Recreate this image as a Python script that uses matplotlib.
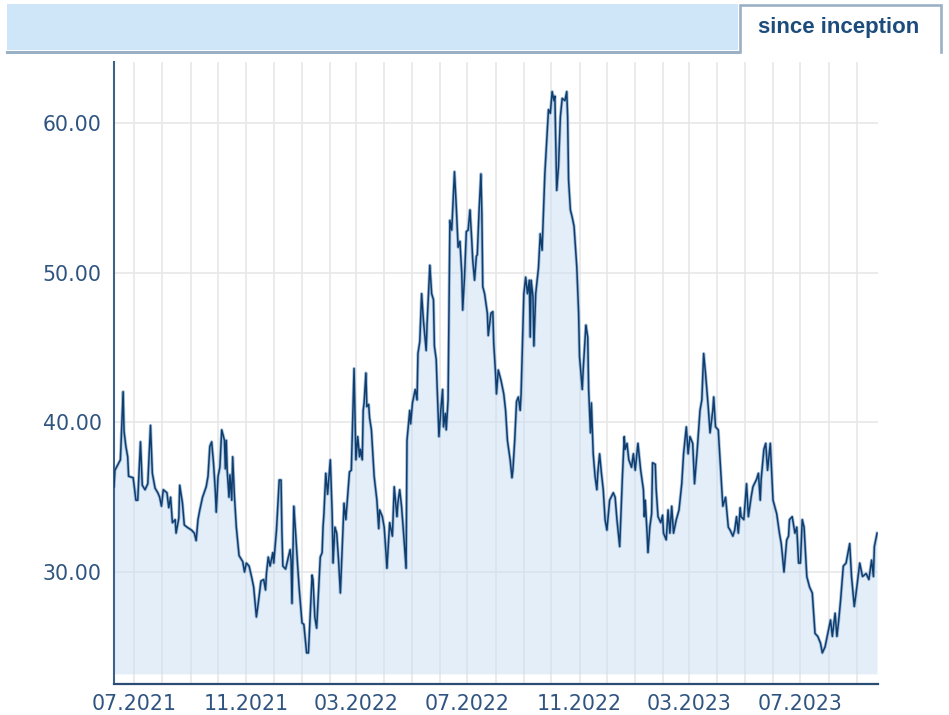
import matplotlib
matplotlib.use('Agg')
import matplotlib.pyplot as plt
import matplotlib.dates as mdates
from matplotlib.patches import Rectangle
from matplotlib.lines import Line2D
import pandas as pd

# ---------------- data ----------------
dates = [
    "2021-06-09", "2021-06-10", "2021-06-16", "2021-06-19", "2021-06-20", "2021-06-22", "2021-06-24", "2021-06-25",
    "2021-06-30", "2021-07-03", "2021-07-05", "2021-07-08", "2021-07-10", "2021-07-13", "2021-07-16", "2021-07-19",
    "2021-07-21", "2021-07-24", "2021-07-27", "2021-07-29", "2021-07-31", "2021-08-02", "2021-08-06", "2021-08-08",
    "2021-08-10", "2021-08-12", "2021-08-15", "2021-08-16", "2021-08-19", "2021-08-20", "2021-08-23", "2021-08-25",
    "2021-08-28", "2021-09-02", "2021-09-05", "2021-09-07", "2021-09-09", "2021-09-11", "2021-09-14", "2021-09-18",
    "2021-09-20", "2021-09-22", "2021-09-24", "2021-09-26", "2021-09-28", "2021-09-29", "2021-10-01", "2021-10-03",
    "2021-10-05", "2021-10-08", "2021-10-09", "2021-10-10", "2021-10-11", "2021-10-13", "2021-10-14", "2021-10-16",
    "2021-10-17", "2021-10-19", "2021-10-21", "2021-10-24", "2021-10-28", "2021-10-30", "2021-11-01", "2021-11-04",
    "2021-11-07", "2021-11-09", "2021-11-12", "2021-11-14", "2021-11-17", "2021-11-20", "2021-11-22", "2021-11-23",
    "2021-11-25", "2021-11-27", "2021-11-30", "2021-12-01", "2021-12-04", "2021-12-07", "2021-12-09", "2021-12-10",
    "2021-12-11", "2021-12-14", "2021-12-17", "2021-12-19", "2021-12-20", "2021-12-21", "2021-12-23", "2021-12-25",
    "2021-12-27", "2021-12-29", "2022-01-01", "2022-01-03", "2022-01-06", "2022-01-08", "2022-01-10", "2022-01-12",
    "2022-01-13", "2022-01-15", "2022-01-17", "2022-01-19", "2022-01-21", "2022-01-23", "2022-01-24", "2022-01-25",
    "2022-01-27", "2022-01-29", "2022-02-01", "2022-02-03", "2022-02-04", "2022-02-06", "2022-02-08", "2022-02-10",
    "2022-02-12", "2022-02-16", "2022-02-18", "2022-02-22", "2022-02-24", "2022-02-27", "2022-03-01", "2022-03-03",
    "2022-03-05", "2022-03-06", "2022-03-08", "2022-03-09", "2022-03-10", "2022-03-12", "2022-03-13", "2022-03-15",
    "2022-03-16", "2022-03-18", "2022-03-21", "2022-03-24", "2022-03-26", "2022-03-27", "2022-03-30", "2022-04-01",
    "2022-04-03", "2022-04-04", "2022-04-05", "2022-04-07", "2022-04-10", "2022-04-12", "2022-04-15", "2022-04-16",
    "2022-04-18", "2022-04-20", "2022-04-22", "2022-04-25", "2022-04-26", "2022-04-29", "2022-04-30", "2022-05-02",
    "2022-05-05", "2022-05-07", "2022-05-08", "2022-05-10", "2022-05-12", "2022-05-14", "2022-05-17", "2022-05-18",
    "2022-05-21", "2022-05-23", "2022-05-25", "2022-05-26", "2022-05-28", "2022-05-29", "2022-05-31", "2022-06-02",
    "2022-06-04", "2022-06-05", "2022-06-07", "2022-06-08", "2022-06-10", "2022-06-12", "2022-06-14", "2022-06-17",
    "2022-06-19", "2022-06-21", "2022-06-23", "2022-06-25", "2022-06-26", "2022-06-28", "2022-06-30", "2022-07-02",
    "2022-07-04", "2022-07-06", "2022-07-07", "2022-07-09", "2022-07-11", "2022-07-12", "2022-07-14", "2022-07-16",
    "2022-07-17", "2022-07-18", "2022-07-20", "2022-07-23", "2022-07-24", "2022-07-27", "2022-07-29", "2022-07-30",
    "2022-08-01", "2022-08-02", "2022-08-04", "2022-08-07", "2022-08-10", "2022-08-12", "2022-08-14", "2022-08-17",
    "2022-08-19", "2022-08-20", "2022-08-22", "2022-08-24", "2022-08-26", "2022-08-28", "2022-08-29", "2022-08-31",
    "2022-09-01", "2022-09-03", "2022-09-05", "2022-09-07", "2022-09-08", "2022-09-09", "2022-09-11", "2022-09-12",
    "2022-09-14", "2022-09-17", "2022-09-19", "2022-09-21", "2022-09-24", "2022-09-28", "2022-09-30", "2022-10-02",
    "2022-10-04", "2022-10-05", "2022-10-07", "2022-10-09", "2022-10-11", "2022-10-13", "2022-10-16", "2022-10-18",
    "2022-10-19", "2022-10-20", "2022-10-22", "2022-10-24", "2022-10-26", "2022-10-29", "2022-10-31", "2022-11-01",
    "2022-11-04", "2022-11-05", "2022-11-08", "2022-11-10", "2022-11-11", "2022-11-13", "2022-11-14", "2022-11-16",
    "2022-11-18", "2022-11-20", "2022-11-21", "2022-11-23", "2022-11-25", "2022-11-27", "2022-11-29", "2022-12-01",
    "2022-12-04", "2022-12-08", "2022-12-10", "2022-12-12", "2022-12-15", "2022-12-18", "2022-12-20", "2022-12-21",
    "2022-12-23", "2022-12-25", "2022-12-28", "2022-12-30", "2023-01-01", "2023-01-04", "2023-01-07", "2023-01-10",
    "2023-01-11", "2023-01-12", "2023-01-14", "2023-01-15", "2023-01-17", "2023-01-19", "2023-01-20", "2023-01-23",
    "2023-01-24", "2023-01-26", "2023-01-29", "2023-01-31", "2023-02-01", "2023-02-04", "2023-02-06", "2023-02-08",
    "2023-02-10", "2023-02-12", "2023-02-15", "2023-02-18", "2023-02-21", "2023-02-23", "2023-02-26", "2023-02-28",
    "2023-03-02", "2023-03-05", "2023-03-07", "2023-03-10", "2023-03-13", "2023-03-15", "2023-03-17", "2023-03-19",
    "2023-03-22", "2023-03-24", "2023-03-27", "2023-03-28", "2023-03-30", "2023-04-02", "2023-04-04", "2023-04-07",
    "2023-04-10", "2023-04-13", "2023-04-15", "2023-04-18", "2023-04-20", "2023-04-22", "2023-04-24", "2023-04-26",
    "2023-04-27", "2023-04-30", "2023-05-03", "2023-05-05", "2023-05-08", "2023-05-10", "2023-05-14", "2023-05-16",
    "2023-05-18", "2023-05-19", "2023-05-22", "2023-05-24", "2023-05-26", "2023-05-29", "2023-06-01", "2023-06-05",
    "2023-06-08", "2023-06-10", "2023-06-11", "2023-06-13", "2023-06-16", "2023-06-18", "2023-06-19", "2023-06-22",
    "2023-06-25", "2023-06-27", "2023-06-29", "2023-07-01", "2023-07-03", "2023-07-05", "2023-07-08", "2023-07-11",
    "2023-07-14", "2023-07-17", "2023-07-20", "2023-07-23", "2023-07-25", "2023-07-28", "2023-07-31", "2023-08-03",
    "2023-08-05", "2023-08-08", "2023-08-10", "2023-08-12", "2023-08-14", "2023-08-17", "2023-08-20", "2023-08-24",
    "2023-08-26", "2023-08-29", "2023-08-31", "2023-09-04", "2023-09-07", "2023-09-11", "2023-09-14", "2023-09-17",
    "2023-09-19", "2023-09-20", "2023-09-23",
]

values = [
    35.7, 36.8, 37.5, 42.05, 39.4, 38.4, 37.7, 36.4,
    36.3, 34.8, 34.8, 38.7, 35.8, 35.5, 35.9, 39.8,
    36.6, 35.6, 35.3, 35.0, 34.4, 35.5, 35.3, 34.3,
    35.0, 33.3, 33.5, 32.6, 33.6, 35.8, 34.6, 33.15,
    33.0, 32.8, 32.6, 32.1, 33.5, 34.15, 35.0, 35.7,
    36.4, 38.4, 38.7, 37.3, 35.4, 34.0, 36.4, 37.0,
    39.5, 38.8, 36.9, 38.8, 36.8, 35.0, 36.5, 34.8,
    37.7, 35.0, 33.0, 31.1, 30.7, 30.0, 30.6, 30.4,
    29.6, 29.0, 27.0, 27.9, 29.4, 29.5, 28.8, 29.9,
    31.0, 30.4, 31.3, 30.6, 32.8, 36.15, 36.15, 32.6,
    30.4, 30.2, 31.0, 31.5, 30.8, 27.9, 34.4, 32.6,
    30.6, 28.8, 26.6, 26.5, 24.6, 24.6, 27.2, 29.8,
    29.5, 27.0, 26.25, 28.6, 31.0, 31.3, 33.0, 33.9,
    36.6, 35.2, 37.5, 33.9, 30.6, 33.0, 32.6, 30.8,
    28.6, 34.6, 33.5, 36.7, 36.8, 43.6, 37.5, 39.05,
    37.7, 38.2, 37.5, 40.8, 41.3, 43.3, 41.05, 41.2,
    40.3, 39.5, 36.4, 34.8, 32.9, 34.15, 33.7, 33.0,
    31.25, 30.25, 31.25, 33.3, 32.4, 35.7, 33.7, 34.6,
    35.5, 34.4, 32.8, 30.25, 38.8, 40.8, 39.9, 41.3,
    42.2, 41.5, 44.6, 45.4, 48.6, 46.8, 44.8, 46.6,
    50.5, 48.6, 48.2, 45.1, 44.2, 42.4, 39.05, 40.8,
    42.2, 39.7, 40.6, 39.5, 41.5, 53.5, 52.85, 56.75,
    54.4, 51.7, 52.1, 49.95, 47.5, 49.7, 52.75, 52.85,
    54.2, 52.1, 50.85, 49.5, 51.1, 51.2, 54.2, 56.6,
    54.0, 49.07, 48.6, 47.3, 45.8, 47.3, 47.4, 45.3,
    43.3, 41.9, 43.5, 42.8, 41.9, 40.8, 38.8, 37.5,
    36.3, 36.8, 38.8, 41.4, 41.7, 40.8, 41.9, 46.4,
    48.6, 49.7, 48.6, 49.5, 45.7, 49.5, 48.4, 45.1,
    48.6, 50.3, 52.6, 51.5, 56.6, 60.9, 60.65, 62.1,
    61.5, 61.8, 55.5, 57.1, 60.4, 61.65, 61.5, 62.1,
    60.4, 56.2, 54.2, 53.7, 53.1, 50.4, 47.3, 44.4,
    42.2, 43.5, 46.5, 45.7, 42.2, 39.3, 41.3, 37.9,
    36.4, 35.5, 36.6, 37.9, 36.6, 35.5, 33.5, 32.8,
    34.8, 35.3, 35.0, 33.5, 31.7, 36.4, 39.05, 38.2,
    38.6, 37.5, 37.0, 37.9, 36.8, 38.6, 36.8, 35.5,
    33.7, 34.8, 32.6, 31.3, 33.0, 33.9, 37.3, 37.2,
    35.5, 33.7, 33.3, 33.8, 32.6, 32.15, 34.15, 32.6,
    34.4, 32.6, 33.5, 34.15, 35.9, 37.9, 39.7, 37.9,
    39.05, 38.6, 35.9, 38.2, 40.8, 41.5, 44.6, 43.3,
    41.05, 39.3, 40.8, 41.7, 39.7, 39.5, 37.5, 34.4,
    35.0, 33.0, 32.8, 32.4, 32.8, 33.7, 32.6, 34.3,
    33.7, 33.5, 35.9, 33.7, 35.0, 35.7, 36.2, 36.6,
    34.8, 36.2, 38.2, 38.6, 36.8, 38.6, 34.8, 33.9,
    32.6, 31.9, 31.3, 30.0, 32.15, 32.4, 33.5, 33.7,
    32.6, 33.0, 30.6, 30.6, 33.5, 33.0, 29.7, 29.0,
    28.6, 25.9, 25.7, 25.25, 24.6, 25.0, 25.9, 26.8,
    25.7, 27.25, 25.7, 26.8, 28.1, 30.4, 30.6, 31.9,
    29.7, 27.7, 28.6, 30.6, 29.7, 29.9, 29.5, 30.8,
    29.7, 31.7, 32.6,
]

y_ticks = [30, 40, 50, 60]
y_tick_labels = ["30.00", "40.00", "50.00", "60.00"]
label_months = [3, 7, 11]
tab_label = "since inception"

# ---------------- figure ----------------
W, H = 949, 715
fig = plt.figure(figsize=(W / 100, H / 100), dpi=100)
fig.patch.set_facecolor("white")

ax = fig.add_axes([114 / W, 1 - 684 / H, (878 - 114) / W, (684 - 62) / H])
x = pd.to_datetime(dates)

ax.fill_between(x, values, 23.2, color="#c8dff4", alpha=0.5, lw=0, zorder=1)
# soft halo + dark core to mimic the anti-aliased stroke of the original
ax.plot(x, values, color="#8fb0d2", lw=2.3, alpha=0.8, zorder=2)
ax.plot(x, values, color="#0f3d6e", lw=1.1, zorder=3)

ax.set_xlim(pd.Timestamp("2021-06-09"), pd.Timestamp("2023-09-24"))
ax.set_ylim(22.52, 64.08)
ax.set_yticks(y_ticks)
ax.set_yticklabels(y_tick_labels)

ax.xaxis.set_major_locator(mdates.MonthLocator(bymonth=label_months))
ax.xaxis.set_major_formatter(mdates.DateFormatter("%m.%Y"))
ax.xaxis.set_minor_locator(mdates.MonthLocator())

ax.set_axisbelow(True)
ax.grid(True, which="both", axis="x", color="#e6e6e6", lw=1.1)
ax.grid(True, which="major", axis="y", color="#e6e6e6", lw=1.1)
ax.tick_params(which="both", length=0)
ax.tick_params(axis="x", pad=7, labelsize=14.8, labelcolor="#2f5480")
ax.tick_params(axis="y", pad=9, labelsize=14.8, labelcolor="#2f5480")

for s in ["top", "right"]:
    ax.spines[s].set_visible(False)
ax.spines["left"].set_color("#3d6188")
ax.spines["left"].set_linewidth(1.5)
ax.spines["bottom"].set_color("#2a4d73")
ax.spines["bottom"].set_linewidth(1.6)

# ---------------- header bar with tab ----------------
def fx(px):
    return px / W

def fy(py):
    return 1 - py / H

fig.patches.append(Rectangle((fx(7), fy(50)), fx(738) - fx(7), fy(4) - fy(50),
                             transform=fig.transFigure, facecolor="#cfe5f8",
                             edgecolor="none", zorder=0))
fig.lines.append(Line2D([fx(7), fx(738)], [fy(51.5), fy(51.5)], transform=fig.transFigure,
                        color="#9ab0c6", lw=2.2))
fig.patches.append(Rectangle((fx(739), fy(52)), fx(940) - fx(739), fy(4.5) - fy(52),
                             transform=fig.transFigure, facecolor="white",
                             edgecolor="none", zorder=0))
fig.lines.append(Line2D([fx(739.5), fx(739.5), fx(940.5), fx(940.5)],
                        [fy(52), fy(4.5), fy(4.5), fy(52)], transform=fig.transFigure,
                        color="#9ab0c6", lw=1.9, solid_joinstyle="miter"))
fig.text(fx(839), fy(33.3), tab_label, ha="center", va="baseline",
         fontsize=16, fontweight="bold", color="#1c4c7c",
         family=["Liberation Sans", "DejaVu Sans"])

fig.savefig("out.png", dpi=100)
